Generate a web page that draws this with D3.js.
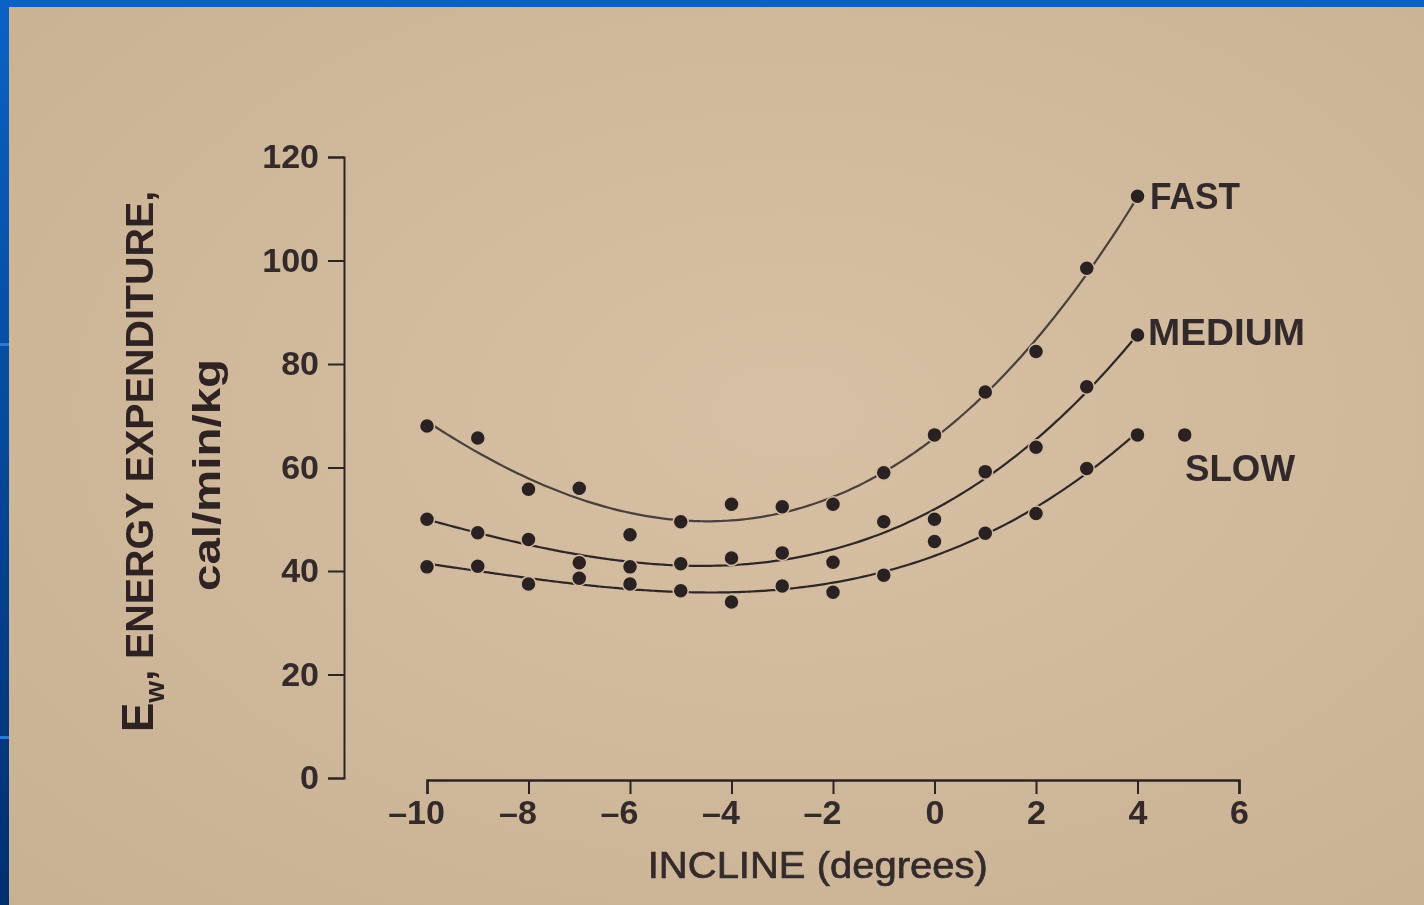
<!DOCTYPE html>
<html>
<head>
<meta charset="utf-8">
<script src="https://cdn.jsdelivr.net/npm/d3@7"></script>
<style>
  html, body { margin: 0; padding: 0; background: #0a5cb8; }
  svg { display: block; }
</style>
</head>
<body>
<div id="chart"></div>
<script>
// incline (degrees)
var inclines = [-10, -9, -8, -7, -6, -5, -4, -3, -2, -1, 0, 1, 2, 3, 4];

// energy expenditure, cal/min/kg
var fastValues   = [68.0, 65.7, 55.8, 56.0, 47.0, 49.5, 52.9, 52.4, 52.9, 59.0, 66.3, 74.6, 82.4, 98.5, 112.4];
var mediumValues = [50.0, 47.4, 46.1, 41.6, 40.8, 41.4, 42.5, 43.5, 41.7, 49.5, 50.0, 59.2, 63.9, 75.6, 85.6];
var slowValues   = [40.8, 40.9, 37.5, 38.6, 37.5, 36.2, 34.0, 37.1, 35.9, 39.2, 45.7, 47.3, 51.1, 59.8, 66.3];

// lone dot printed beside the SLOW label
var slowExtra = [{ x: 4.93, y: 66.3 }];

var seriesNames = ["FAST", "MEDIUM", "SLOW"];
var xTicks = [-10, -8, -6, -4, -2, 0, 2, 4, 6];
var yTicks = [0, 20, 40, 60, 80, 100, 120];

var W = 1424, H = 905;
var paper = "#d2bb9e", ink = "#2d2424";

var svg = d3.select("#chart").append("svg")
    .attr("width", W)
    .attr("height", H);

var defs = svg.append("defs");

var frame = defs.append("linearGradient").attr("id", "frame")
    .attr("x1", 0).attr("y1", 0).attr("x2", 0).attr("y2", 1);
frame.append("stop").attr("offset", "0%").attr("stop-color", "#0a62c4");
frame.append("stop").attr("offset", "100%").attr("stop-color", "#002f6e");

var sheet = defs.append("radialGradient").attr("id", "sheet")
    .attr("cx", "55%").attr("cy", "45%").attr("r", "75%");
sheet.append("stop").attr("offset", "0%").attr("stop-color", "#d7c0a3");
sheet.append("stop").attr("offset", "100%").attr("stop-color", "#c9b194");

defs.append("filter").attr("id", "soft")
    .append("feGaussianBlur").attr("stdDeviation", 0.7);

// slide frame and the photographed page
svg.append("rect").attr("width", W).attr("height", H).attr("fill", "url(#frame)");
svg.append("rect").attr("x", 9).attr("y", 7).attr("width", W - 9).attr("height", H - 7)
    .attr("fill", "url(#sheet)");
svg.selectAll(".deco").data([343, 736]).enter().append("rect")
    .attr("x", 0).attr("y", function (d) { return d; })
    .attr("width", 9).attr("height", 3).attr("fill", "#2a7ad6");

var g = svg.append("g").attr("filter", "url(#soft)");

var x = d3.scaleLinear().domain([-10, 6]).range([427, 1239]);
var y = d3.scaleLinear().domain([0, 120]).range([778, 157]);

// y axis
var yAxis = g.append("g").attr("transform", "translate(344,0)")
    .call(d3.axisLeft(y).tickValues(yTicks).tickSize(16).tickPadding(9));
// x axis, drawn apart from the y axis as in the original
var xAxis = g.append("g").attr("transform", "translate(0,780)")
    .call(d3.axisBottom(x).tickValues(xTicks).tickSize(14).tickPadding(6)
      .tickFormat(function (d) { return d < 0 ? "\u2013" + Math.abs(d) : d; }));

[yAxis, xAxis].forEach(function (a) {
  a.select(".domain").attr("stroke", ink).attr("stroke-width", 2);
  a.selectAll(".tick line").attr("stroke", ink).attr("stroke-width", 2);
  a.selectAll(".tick text")
      .attr("fill", "#352c2c")
      .style("font-family", "'Liberation Sans', Arial, sans-serif")
      .style("font-size", "34px")
      .style("font-weight", "bold");
});
xAxis.select(".domain").attr("stroke-width", 2.5);
// the minus sign hangs left of the tick, digits sit on it
xAxis.selectAll(".tick text")
    .attr("dx", function (d) { return d < 0 ? -11 : 0; });

// axis titles
g.append("text")
    .attr("x", x(-2.3)).attr("y", 878)
    .attr("text-anchor", "middle")
    .attr("textLength", 340).attr("lengthAdjust", "spacingAndGlyphs")
    .attr("fill", "#352c2c")
    .attr("stroke", "#352c2c").attr("stroke-width", 0.7)
    .style("font-family", "'Liberation Sans', Arial, sans-serif")
    .style("font-size", "36px")
    .text("INCLINE (degrees)");

var yt = g.append("text")
    .attr("transform", "translate(153,732) rotate(-90)")
    .attr("fill", ink)
    .style("font-family", "'Liberation Sans', Arial, sans-serif")
    .style("font-weight", "bold");
yt.append("tspan").style("font-size", "44px").text("E");
yt.append("tspan").style("font-size", "28px").attr("dy", 11).text("w");
yt.append("tspan").style("font-size", "38px").attr("dy", -11)
    .attr("textLength", 490).attr("lengthAdjust", "spacingAndGlyphs")
    .text(", ENERGY EXPENDITURE,");

g.append("text")
    .attr("transform", "translate(220,475) rotate(-90)")
    .attr("text-anchor", "middle")
    .attr("textLength", 232).attr("lengthAdjust", "spacingAndGlyphs")
    .attr("fill", ink)
    .style("font-family", "'Liberation Sans', Arial, sans-serif")
    .style("font-size", "38px")
    .style("font-weight", "bold")
    .text("cal/min/kg");

// least squares cubic through each series for the drawn curve
function cubicFit(xs, ys) {
  var n = 4, A = [], i, j, k;
  for (i = 0; i < n; i++) {
    A.push([]);
    for (j = 0; j < n; j++) A[i].push(d3.sum(xs, function (v) { return Math.pow(v, i + j); }));
    A[i].push(d3.sum(xs, function (v, m) { return Math.pow(v, i) * ys[m]; }));
  }
  for (i = 0; i < n; i++) {
    for (k = i + 1; k < n; k++) {
      var f = A[k][i] / A[i][i];
      for (j = i; j <= n; j++) A[k][j] -= f * A[i][j];
    }
  }
  var c = [0, 0, 0, 0];
  for (i = n - 1; i >= 0; i--) {
    var s = A[i][n];
    for (j = i + 1; j < n; j++) s -= A[i][j] * c[j];
    c[i] = s / A[i][i];
  }
  return function (t) { return c[0] + c[1] * t + c[2] * t * t + c[3] * t * t * t; };
}

var seriesValues = [fastValues, mediumValues, slowValues];
var series = seriesNames.map(function (name, i) {
  return {
    name: name,
    points: inclines.map(function (d, m) { return { x: d, y: seriesValues[i][m] }; }),
    fit: cubicFit(inclines, seriesValues[i])
  };
});

var line = d3.line()
    .x(function (d) { return x(d.x); })
    .y(function (d) { return y(d.y); })
    .curve(d3.curveMonotoneX);

var steps = d3.range(-10, 4.001, 0.1);
g.selectAll(".fit").data(series).enter().append("path")
    .attr("class", "fit")
    .attr("fill", "none")
    .attr("stroke", function (d, i) { return i === 0 ? "#4a3f3d" : "#2f2727"; })
    .attr("stroke-width", 2.2)
    .attr("d", function (s) {
      return line(steps.map(function (t) { return { x: t, y: s.fit(t) }; }));
    });

var dots = [];
series.forEach(function (s) { dots = dots.concat(s.points); });
dots = dots.concat(slowExtra);

g.selectAll(".dot").data(dots).enter().append("circle")
    .attr("class", "dot")
    .attr("cx", function (d) { return x(d.x); })
    .attr("cy", function (d) { return y(d.y); })
    .attr("r", 7.5)
    .attr("fill", "#2b2022")
    .attr("stroke", paper)
    .attr("stroke-width", 1.5);

// series labels at the right-hand end of each curve
var labelPos = [
  { name: "FAST", x: 1150, y: 209, len: 90 },
  { name: "MEDIUM", x: 1148, y: 345, len: 157 },
  { name: "SLOW", x: 1185, y: 481, len: 110 }
];
g.selectAll(".lbl").data(labelPos).enter().append("text")
    .attr("class", "lbl")
    .attr("x", function (d) { return d.x; })
    .attr("y", function (d) { return d.y; })
    .attr("textLength", function (d) { return d.len; })
    .attr("lengthAdjust", "spacingAndGlyphs")
    .attr("fill", "#332a2a")
    .style("font-family", "'Liberation Sans', Arial, sans-serif")
    .style("font-size", "37px")
    .style("font-weight", "bold")
    .text(function (d) { return d.name; });
</script>
</body>
</html>
